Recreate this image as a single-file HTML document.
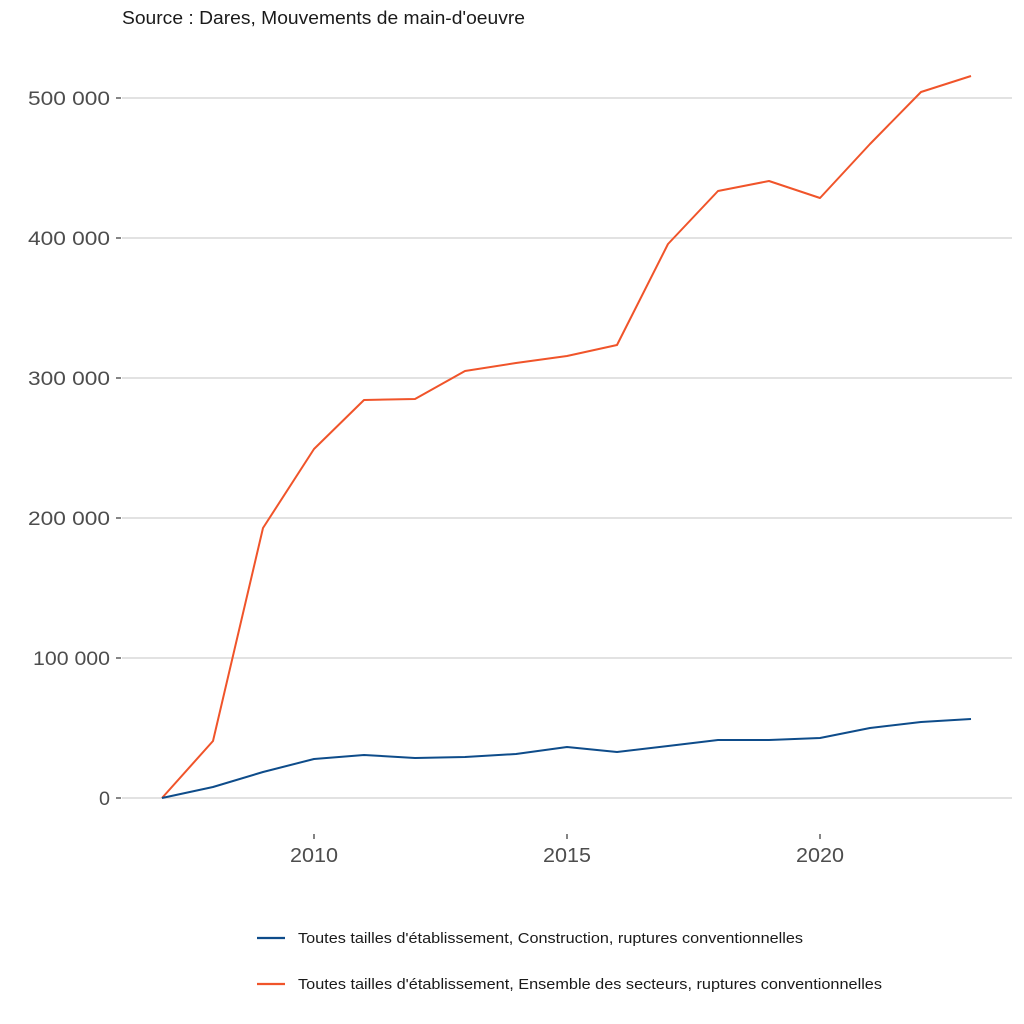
<!DOCTYPE html>
<html><head><meta charset="utf-8"><style>
html,body{margin:0;padding:0;background:#fff;}
svg{display:block;font-family:"Liberation Sans",Arial,sans-serif;}
</style></head><body>
<svg width="1024" height="1024" viewBox="0 0 1024 1024" xmlns="http://www.w3.org/2000/svg">
<rect width="1024" height="1024" fill="#fff"/>
<text x="122" y="24" font-size="18" fill="#1a1a1a" textLength="403" lengthAdjust="spacingAndGlyphs">Source : Dares, Mouvements de main-d'oeuvre</text>
<g stroke="#d9d9d9" stroke-width="1.6">
<line x1="122" x2="1012" y1="98" y2="98"/>
<line x1="122" x2="1012" y1="238" y2="238"/>
<line x1="122" x2="1012" y1="378" y2="378"/>
<line x1="122" x2="1012" y1="518" y2="518"/>
<line x1="122" x2="1012" y1="658" y2="658"/>
<line x1="122" x2="1012" y1="798" y2="798"/>
</g>
<g stroke="#333" stroke-width="1.2">
<line x1="116" x2="121" y1="98" y2="98"/>
<line x1="116" x2="121" y1="238" y2="238"/>
<line x1="116" x2="121" y1="378" y2="378"/>
<line x1="116" x2="121" y1="518" y2="518"/>
<line x1="116" x2="121" y1="658" y2="658"/>
<line x1="116" x2="121" y1="798" y2="798"/>
<line x1="314" x2="314" y1="834" y2="839"/>
<line x1="567" x2="567" y1="834" y2="839"/>
<line x1="820" x2="820" y1="834" y2="839"/>
</g>
<g font-size="19.5" fill="#4d4d4d">
<text x="28" y="105" textLength="82" lengthAdjust="spacingAndGlyphs">500 000</text>
<text x="28" y="245" textLength="82" lengthAdjust="spacingAndGlyphs">400 000</text>
<text x="28" y="385" textLength="82" lengthAdjust="spacingAndGlyphs">300 000</text>
<text x="28" y="525" textLength="82" lengthAdjust="spacingAndGlyphs">200 000</text>
<text x="33" y="665" textLength="77" lengthAdjust="spacingAndGlyphs">100 000</text>
<text x="99" y="805" textLength="11" lengthAdjust="spacingAndGlyphs">0</text>
</g>
<g font-size="20" fill="#4d4d4d">
<text x="290" y="862" textLength="48" lengthAdjust="spacingAndGlyphs">2010</text>
<text x="543" y="862" textLength="48" lengthAdjust="spacingAndGlyphs">2015</text>
<text x="796" y="862" textLength="48" lengthAdjust="spacingAndGlyphs">2020</text>
</g>
<polyline fill="none" stroke="#f0542a" stroke-width="2" stroke-linejoin="round" points="162,798 213,741 263,528 314,449 364,400 415,399 465,371 516,363 567,356 617,345 668,244 718,191 769,181 820,198 870,144 921,92 971,76"/>
<polyline fill="none" stroke="#0e4c8a" stroke-width="2" stroke-linejoin="round" points="162,798 213,787 263,772 314,759 364,755 415,758 465,757 516,754 567,747 617,752 668,746 718,740 769,740 820,738 870,728 921,722 971,719"/>
<line x1="257" x2="285" y1="938" y2="938" stroke="#0e4c8a" stroke-width="2.2"/>
<line x1="257" x2="285" y1="984" y2="984" stroke="#f0542a" stroke-width="2.2"/>
<g font-size="15" fill="#1a1a1a">
<text x="298" y="943" textLength="505" lengthAdjust="spacingAndGlyphs">Toutes tailles d'établissement, Construction, ruptures conventionnelles</text>
<text x="298" y="989" textLength="584" lengthAdjust="spacingAndGlyphs">Toutes tailles d'établissement, Ensemble des secteurs, ruptures conventionnelles</text>
</g>
</svg>
</body></html>
